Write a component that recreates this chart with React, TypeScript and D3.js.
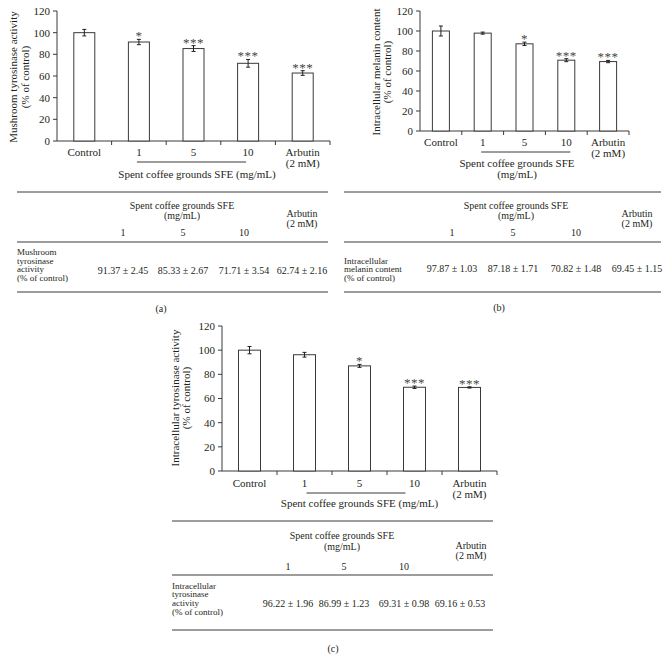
import React from "react";
import * as d3 from "d3";

// ---------- DATA ----------
const categories = ["Control", "1", "5", "10", "Arbutin"];
const categorySubLabels = ["", "", "", "", "(2 mM)"];
const yTicks = [0, 20, 40, 60, 80, 100, 120];
const doseLabels = ["1", "5", "10"];

const mushroomMeans = [100, 91.37, 85.33, 71.71, 62.74];
const mushroomSD = [3, 2.45, 2.67, 3.54, 2.16];
const mushroomStars = ["", "*", "***", "***", "***"];

const melaninMeans = [100, 97.87, 87.18, 70.82, 69.45];
const melaninSD = [5, 1.03, 1.71, 1.48, 1.15];
const melaninStars = ["", "", "*", "***", "***"];

const cellTyrMeans = [100, 96.22, 86.99, 69.31, 69.16];
const cellTyrSD = [3, 1.96, 1.23, 0.98, 0.53];
const cellTyrStars = ["", "", "*", "***", "***"];

// ---------- STYLE ----------
const FONT = "'Liberation Serif', 'Times New Roman', serif";
const INK = "#231f20";
const LINE = "#3a3a3a";

type ChartLayout = {
  axisX: number; xEnd: number; y0: number; yTop: number; barW: number;
  titleLines: string[]; titleXs: number[]; titleCY: number;
  catY: number; cat2Y: number; underY: number; underOff: [number, number];
  groupLines: string[]; groupDX: number; groupYs: number[];
};

function BarChart({ L, means, sds, stars }: { L: ChartLayout; means: number[]; sds: number[]; stars: string[] }) {
  const step = (L.xEnd - L.axisX) / categories.length;
  const p = 1 - L.barW / step;
  const x = d3.scaleBand<string>().domain(categories).range([L.axisX, L.xEnd]).paddingInner(p).paddingOuter(p / 2);
  const y = d3.scaleLinear().domain([0, 120]).range([L.y0, L.yTop]);
  const cx = (c: string) => (x(c) as number) + x.bandwidth() / 2;
  const fs = 11;
  return (
    <g fontFamily={FONT} fill={INK}>
      {/* y axis */}
      <line x1={L.axisX} x2={L.axisX} y1={y(0)} y2={y(120)} stroke={LINE} />
      {yTicks.map((t) => (
        <g key={t}>
          <line x1={L.axisX - 4} x2={L.axisX} y1={y(t)} y2={y(t)} stroke={LINE} />
          <text x={L.axisX - 7} y={y(t) + fs * 0.35} textAnchor="end" fontSize={fs}>{t}</text>
        </g>
      ))}
      {/* x axis */}
      <line x1={L.axisX} x2={L.xEnd} y1={y(0)} y2={y(0)} stroke={LINE} />
      {categories.map((c) => (
        <line key={"t" + c} x1={cx(c) + step / 2} x2={cx(c) + step / 2} y1={y(0)} y2={y(0) + 4} stroke={LINE} />
      ))}
      {/* bars */}
      {categories.map((c, i) => {
        const top = y(means[i] + sds[i]);
        const bot = y(means[i] - sds[i]);
        return (
          <g key={c}>
            <rect x={x(c)} y={y(means[i])} width={x.bandwidth()} height={y(0) - y(means[i])} fill="#fff" stroke={LINE} strokeWidth={1} />
            <line x1={cx(c)} x2={cx(c)} y1={top} y2={bot} stroke={INK} strokeWidth={1} />
            <line x1={cx(c) - 2} x2={cx(c) + 2} y1={top} y2={top} stroke={INK} strokeWidth={1} />
            <line x1={cx(c) - 2} x2={cx(c) + 2} y1={bot} y2={bot} stroke={INK} strokeWidth={1} />
            {stars[i] && (
              <text x={cx(c)} y={top + 1} textAnchor="middle" fontSize={13} letterSpacing={0.5} fill="#444">{stars[i]}</text>
            )}
            <text x={cx(c)} y={L.catY + fs * 0.35} textAnchor="middle" fontSize={fs}>{c}</text>
            {categorySubLabels[i] && (
              <text x={cx(c)} y={L.cat2Y + fs * 0.35} textAnchor="middle" fontSize={fs}>{categorySubLabels[i]}</text>
            )}
          </g>
        );
      })}
      {/* group underline */}
      <line x1={cx("1") + L.underOff[0]} x2={cx("10") + L.underOff[1]} y1={L.underY} y2={L.underY} stroke={LINE} />
      {L.groupLines.map((g, k) => (
        <text key={g} x={cx("5") + L.groupDX} y={L.groupYs[k] + fs * 0.35} textAnchor="middle" fontSize={fs}>{g}</text>
      ))}
      {/* y title */}
      {L.titleLines.map((t, k) => (
        <text key={t} transform={`translate(${L.titleXs[k] + fs * 0.35},${L.titleCY}) rotate(-90)`} textAnchor="middle" fontSize={fs}>{t}</text>
      ))}
    </g>
  );
}

type TableLayout = {
  left: number; right: number; top: number; mid: number; bottom: number;
  spentCX: number; spentYs: number[]; arbX: number; arbYs: number[];
  colX: number[]; digitY: number; rowLabel: string[]; rowY0: number; rowStep: number;
  valY: number; caption: string; capX: number; capY: number;
};

function ValueTable({ T, means, sds }: { T: TableLayout; means: number[]; sds: number[] }) {
  const fs = 10;
  const b = fs * 0.35;
  const vals = means.slice(1).map((m, i) => `${m.toFixed(2)} ± ${sds[i + 1].toFixed(2)}`);
  return (
    <g fontFamily={FONT} fill={INK} fontSize={fs}>
      <line x1={T.left} x2={T.right} y1={T.top} y2={T.top} stroke={LINE} />
      <line x1={T.left} x2={T.right} y1={T.mid} y2={T.mid} stroke={LINE} />
      <line x1={T.left} x2={T.right} y1={T.bottom} y2={T.bottom} stroke={LINE} />
      <text x={T.spentCX} y={T.spentYs[0] + b} textAnchor="middle">Spent coffee grounds SFE</text>
      <text x={T.spentCX} y={T.spentYs[1] + b} textAnchor="middle">(mg/mL)</text>
      <text x={T.arbX} y={T.arbYs[0] + b} textAnchor="middle">Arbutin</text>
      <text x={T.arbX} y={T.arbYs[1] + b} textAnchor="middle">(2 mM)</text>
      {doseLabels.map((d, i) => (
        <text key={d} x={T.colX[i]} y={T.digitY + b} textAnchor="middle">{d}</text>
      ))}
      {T.rowLabel.map((r, k) => (
        <text key={r} x={T.left} y={T.rowY0 + k * T.rowStep + b} fontSize={9}>{r}</text>
      ))}
      {vals.map((v, i) => (
        <text key={i} x={T.colX[i]} y={T.valY + b} textAnchor="middle">{v}</text>
      ))}
      <text x={T.capX} y={T.capY + b} textAnchor="middle">{T.caption}</text>
    </g>
  );
}

const layoutA: ChartLayout = {
  axisX: 57, xEnd: 330, y0: 141, yTop: 11, barW: 21,
  titleLines: ["Mushroom tyrosinase activity", "(% of control)"], titleXs: [13, 25], titleCY: 77,
  catY: 152, cat2Y: 163, underY: 162, underOff: [-2, -2],
  groupLines: ["Spent coffee grounds SFE (mg/mL)"], groupDX: 3.5, groupYs: [174],
};
const layoutB: ChartLayout = {
  axisX: 420, xEnd: 629, y0: 131, yTop: 11, barW: 17,
  titleLines: ["Intracellular melanin content", "(% of control)"], titleXs: [376, 387], titleCY: 72,
  catY: 142, cat2Y: 153, underY: 152, underOff: [-1.5, 4],
  groupLines: ["Spent coffee grounds SFE", "(mg/mL)"], groupDX: -7.5, groupYs: [163, 174],
};
const layoutC: ChartLayout = {
  axisX: 222, xEnd: 497, y0: 471, yTop: 326, barW: 22,
  titleLines: ["Intracellular tyrosinase activity", "(% of control)"], titleXs: [175, 186], titleCY: 398,
  catY: 483, cat2Y: 494, underY: 493, underOff: [2, -9],
  groupLines: ["Spent coffee grounds SFE (mg/mL)"], groupDX: 0, groupYs: [503],
};

const tableA: TableLayout = {
  left: 17, right: 328, top: 192, mid: 242, bottom: 292,
  spentCX: 182, spentYs: [205, 215], arbX: 302, arbYs: [213, 223],
  colX: [123, 183, 244, 302], digitY: 232,
  rowLabel: ["Mushroom", "tyrosinase", "activity", "(% of control)"], rowY0: 251.5, rowStep: 8.5,
  valY: 270, caption: "(a)", capX: 161, capY: 308,
};
const tableB: TableLayout = {
  left: 344, right: 661, top: 192, mid: 242, bottom: 292,
  spentCX: 516, spentYs: [205, 215], arbX: 637, arbYs: [213, 223],
  colX: [452, 513, 576, 637], digitY: 232,
  rowLabel: ["Intracellular", "melanin content", "(% of control)"], rowY0: 260, rowStep: 8.6,
  valY: 268.5, caption: "(b)", capX: 499, capY: 307,
};
const tableC: TableLayout = {
  left: 172, right: 493, top: 521, mid: 575, bottom: 630,
  spentCX: 342, spentYs: [535, 546], arbX: 471, arbYs: [545, 555],
  colX: [288, 344, 404, 460], digitY: 566,
  rowLabel: ["Intracellular", "tyrosinase", "activity", "(% of control)"], rowY0: 585, rowStep: 8.8,
  valY: 603, caption: "(c)", capX: 333, capY: 648,
};

export default function App() {
  return (
    <svg width={668} height={668} style={{ position: "absolute", left: 0, top: 0, background: "#fff" }}>
      <rect width={668} height={668} fill="#fff" />
      <BarChart L={layoutA} means={mushroomMeans} sds={mushroomSD} stars={mushroomStars} />
      <ValueTable T={tableA} means={mushroomMeans} sds={mushroomSD} />
      <BarChart L={layoutB} means={melaninMeans} sds={melaninSD} stars={melaninStars} />
      <ValueTable T={tableB} means={melaninMeans} sds={melaninSD} />
      <BarChart L={layoutC} means={cellTyrMeans} sds={cellTyrSD} stars={cellTyrStars} />
      <ValueTable T={tableC} means={cellTyrMeans} sds={cellTyrSD} />
    </svg>
  );
}
